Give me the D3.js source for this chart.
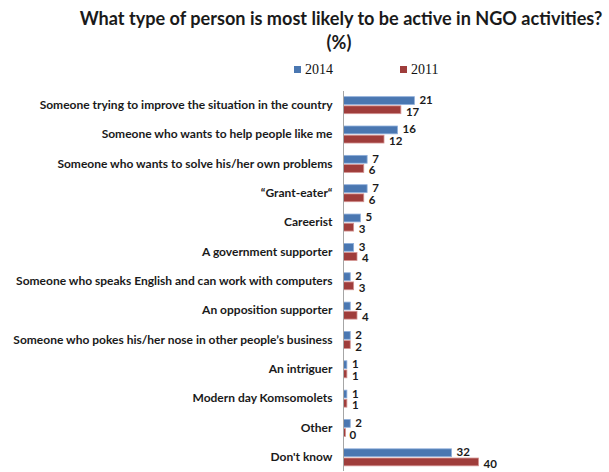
<!DOCTYPE html>
<html>
<head>
<meta charset="utf-8">
<script src="https://cdn.jsdelivr.net/npm/d3@7"></script>
<style>
  html, body { margin: 0; padding: 0; background: #fff; }
  svg { display: block; }
</style>
</head>
<body>
<svg id="chart" width="609" height="472"></svg>
<script>
const categories = [
  "Someone trying to improve the situation in the country",
  "Someone who wants to help people like me",
  "Someone who wants to solve his/her own problems",
  "\u201cGrant-eater\u201c",
  "Careerist",
  "A government supporter",
  "Someone who speaks English and can work with computers",
  "An opposition supporter",
  "Someone who pokes his/her nose in other people\u2019s business",
  "An intriguer",
  "Modern day Komsomolets",
  "Other",
  "Don't know"
];
const seriesNames = ["2014", "2011"];
const values2014 = [21, 16, 7, 7, 5, 3, 2, 2, 2, 1, 1, 2, 32];
const values2011 = [17, 12, 6, 6, 3, 4, 3, 4, 2, 1, 1, 0, 40];
const colors = ["#4a77b1", "#9f3d3b"];
const strokes = ["#8eaedb", "#d39290"];

const svg = d3.select("#chart");
const axisX = 343.5;

const x = d3.scaleLinear().domain([0, 40]).range([axisX, axisX + 135]);
const y = d3.scaleBand().domain(categories).range([90.5, 472]);
const inner = d3.scaleBand().domain(seriesNames).range([0, 17]).paddingInner(0.15);

// Title
const title = svg.append("g")
  .attr("font-family", "Lato, 'Open Sans', sans-serif")
  .attr("font-weight", "bold")
  .attr("font-size", 18.1)
  .attr("fill", "#1a1a1a")
  .attr("text-anchor", "middle");
title.append("text").attr("x", 341).attr("y", 25)
  .text("What type of person is most likely to be active in NGO activities?");
title.append("text").attr("x", 339).attr("y", 49).text("(%)");

// Legend
const legend = svg.append("g")
  .attr("font-family", "'Liberation Serif', 'DejaVu Serif', serif")
  .attr("font-size", 14)
  .attr("fill", "#111");
const legendX = [294, 400];
seriesNames.forEach((s, i) => {
  legend.append("rect").attr("x", legendX[i]).attr("y", 66).attr("width", 7).attr("height", 7)
    .attr("fill", colors[i]);
  legend.append("text").attr("x", legendX[i] + 11).attr("y", 74).text(s);
});

// Bars with value labels
const rows = svg.append("g").selectAll("g")
  .data(categories.map((c, i) => ({ c, v: [values2014[i], values2011[i]] })))
  .join("g")
  .attr("transform", d => `translate(0,${y(d.c) + (y.bandwidth() - 17) / 2})`);

rows.each(function(d) {
  const g = d3.select(this);
  seriesNames.forEach((s, i) => {
    const w = x(d.v[i]) - x(0);
    g.append("rect")
      .attr("x", x(0))
      .attr("y", inner(s))
      .attr("width", Math.max(w, 2))
      .attr("height", inner.bandwidth())
      .attr("fill", colors[i])
      .attr("stroke", strokes[i])
      .attr("stroke-width", 0.8);
    g.append("text")
      .attr("x", x(d.v[i]) + (w < 3 ? 6 : 5))
      .attr("y", inner(s) + inner.bandwidth() / 2 + (i === 0 ? 3.5 : 6))
      .attr("font-family", "Lato, 'Open Sans', sans-serif")
      .attr("font-weight", "bold")
      .attr("font-size", 11.5)
      .attr("fill", "#1a1a1a")
      .text(d.v[i]);
  });
});

// Category axis
const axis = svg.append("g")
  .attr("transform", `translate(${axisX},0)`)
  .call(d3.axisLeft(y).tickSize(0).tickPadding(11));
axis.select(".domain").attr("stroke", "#a6a6a6").attr("d", "M0,91V471");
axis.selectAll("text")
  .attr("font-family", "Lato, 'Open Sans', sans-serif")
  .attr("font-weight", "bold")
  .attr("font-size", 12)
  .attr("fill", "#1a1a1a");
</script>
</body>
</html>
